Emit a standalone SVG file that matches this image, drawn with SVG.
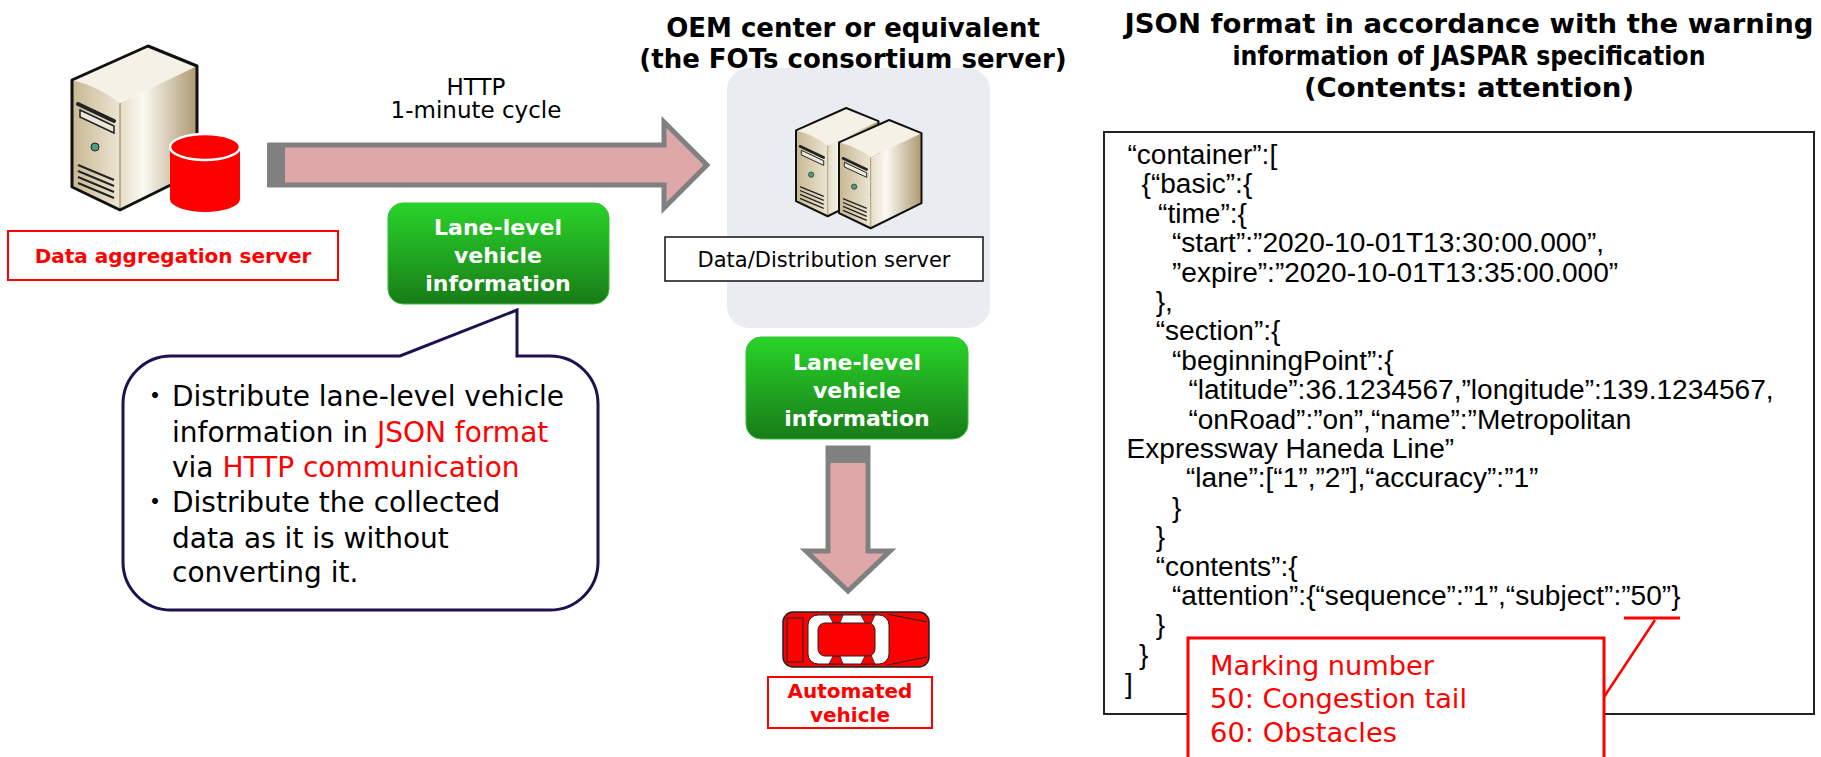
<svg xmlns="http://www.w3.org/2000/svg" xmlns:xlink="http://www.w3.org/1999/xlink" width="1821" height="757" viewBox="0 0 1821 757">
  <style>
    .sans { font-family: "DejaVu Sans", "Noto Sans CJK JP", sans-serif; }
    .bold { font-family: "DejaVu Sans", sans-serif; font-weight: bold; }
    .red { fill: #ff0000; }
    .lbl-red { fill: #ffffff; stroke: #ff0000; stroke-width: 2; }
    .green-box { fill: url(#greenGrad); stroke: #34c034; stroke-width: 1; }
    .green-txt { font-family: "DejaVu Sans", sans-serif; font-weight: bold; font-size: 22px; fill: #ffffff; text-anchor: middle; }
    .flow { fill: #dfa8a8; stroke: #808080; stroke-width: 5; stroke-linejoin: miter; }
    .json { font-family: "Liberation Sans", Arial, sans-serif; font-size: 27px; fill: #000; }
    .note { font-family: "DejaVu Sans", sans-serif; font-size: 26px; fill: #ff0000; }
  </style>
  <defs>
    <linearGradient id="greenGrad" x1="0" y1="0" x2="0" y2="1">
      <stop offset="0" stop-color="#29d429"/>
      <stop offset="1" stop-color="#187c18"/>
    </linearGradient>
    <linearGradient id="sideGrad" x1="0" y1="0" x2="1" y2="0">
      <stop offset="0" stop-color="#e6ddc6"/>
      <stop offset="0.3" stop-color="#fbf9f3"/>
      <stop offset="1" stop-color="#ad9870"/>
    </linearGradient>
    <linearGradient id="frontGrad" x1="0" y1="0" x2="1" y2="0">
      <stop offset="0" stop-color="#c8b893"/>
      <stop offset="1" stop-color="#ece5d2"/>
    </linearGradient>
    <!-- tower computer, 125 x 164 -->
    <g id="tower">
      <path d="M0,34 L76,0 L125,20 L48,57 Q26,40 0,34 Z" fill="#f5f1e6"/>
      <path d="M48,57 L125,20 L125,126 L48,164 Z" fill="url(#sideGrad)"/>
      <path d="M0,34 Q26,40 48,57 L48,164 L0,141 Z" fill="url(#frontGrad)"/>
      <path d="M48,57 L48,164" stroke="#8a7a5a" stroke-width="1" fill="none"/>
      <path d="M6,58 L42,75" stroke="#222" stroke-width="4" stroke-linecap="round"/>
      <path d="M8,64 L42,80 L42,87 L8,71 Z" fill="#ebe7dd" stroke="#222" stroke-width="1.5"/>
      <circle cx="23" cy="101" r="4" fill="#4f9c84" stroke="#222" stroke-width="1"/>
      <path d="M6,119 L42,134 M6,125 L42,140 M6,131 L42,146 M6,137 L42,152" stroke="#222" stroke-width="2" fill="none"/>
      <path d="M0,34 L76,0 L125,20 L125,126 L48,164 L0,141 Z" fill="none" stroke="#111" stroke-width="3" stroke-linejoin="round"/>
    </g>
  </defs>

  <rect width="1821" height="757" fill="#ffffff"/>

  <!-- connectors -->
  <g id="connectors">
    <polygon class="flow" points="270,145 664,145 664,122 707,165 664,208 664,185 270,185"/>
    <rect x="267" y="143" width="18" height="44" fill="#808080"/>
    <text class="sans" font-size="23" text-anchor="middle" x="476" y="95">HTTP</text>
    <text class="sans" font-size="23" text-anchor="middle" x="476" y="118">1-minute cycle</text>
    <polygon class="flow" points="828,448 868,448 868,551 890,551 848,591 806,551 828,551"/>
    <rect x="826" y="446" width="44" height="17" fill="#808080"/>
  </g>

  <!-- data aggregation server -->
  <g id="aggregation-server">
    <use xlink:href="#tower" href="#tower" transform="translate(72,46)"/>
    <path d="M170,147 L170,199 A35,13 0 0 0 240,199 L240,147 Z" fill="#ff0000"/>
    <ellipse cx="205" cy="147" rx="35" ry="13" fill="#ff0000" stroke="#ffffff" stroke-width="2.5"/>
    <rect class="lbl-red" x="8" y="231" width="330" height="49"/>
    <text class="bold red" font-size="20" text-anchor="middle" x="173" y="263">Data aggregation server</text>
  </g>

  <!-- lane-level vehicle information on the HTTP link -->
  <g id="info-upper">
    <rect class="green-box" x="388" y="203" width="221" height="101" rx="15"/>
    <text class="green-txt" x="498" y="235">Lane-level</text>
    <text class="green-txt" x="498" y="263">vehicle</text>
    <text class="green-txt" x="498" y="291">information</text>
  </g>

  <!-- OEM center -->
  <g id="oem-center">
    <text class="bold" font-size="26" text-anchor="middle" x="853" y="37">OEM center or equivalent</text>
    <text class="bold" font-size="26" text-anchor="middle" x="853" y="68">(the FOTs consortium server)</text>
    <rect x="727" y="68" width="263" height="260" rx="22" fill="#e9ecf1"/>
    <use xlink:href="#tower" href="#tower" transform="translate(796,108) scale(0.66)"/>
    <use xlink:href="#tower" href="#tower" transform="translate(839,120) scale(0.66)"/>
    <rect x="665" y="237" width="318" height="44" fill="#ffffff" stroke="#111" stroke-width="1.5"/>
    <text class="sans" font-size="21" text-anchor="middle" x="824" y="267">Data/Distribution server</text>
  </g>

  <!-- lane-level vehicle information toward the vehicle -->
  <g id="info-lower">
    <rect class="green-box" x="746" y="337" width="222" height="102" rx="15"/>
    <text class="green-txt" x="857" y="370">Lane-level</text>
    <text class="green-txt" x="857" y="398">vehicle</text>
    <text class="green-txt" x="857" y="426">information</text>
  </g>

  <!-- automated vehicle -->
  <g id="automated-vehicle">
    <g transform="translate(783,612)">
      <rect x="0" y="0" width="146" height="55" rx="10" fill="#ff0000" stroke="#222" stroke-width="1.5"/>
      <rect x="4" y="6" width="16" height="44" fill="none" stroke="#222" stroke-width="1"/>
      <rect x="25" y="3" width="81" height="49" rx="10" fill="#ffffff" stroke="#222" stroke-width="1"/>
      <path d="M46,3 L60,3 L57,11 L50,11 Z M46,52 L60,52 L57,44 L50,44 Z M78,3 L92,3 L88,12 L82,11 Z M78,52 L92,52 L88,43 L82,44 Z" fill="#ff0000" stroke="#222" stroke-width="0.8"/>
      <rect x="35" y="11" width="57" height="33" rx="7" fill="#ff0000" stroke="#222" stroke-width="1"/>
      <path d="M104,2 L144,10 M104,53 L144,45" stroke="#222" stroke-width="1" fill="none"/>
    </g>
    <rect class="lbl-red" x="768" y="677" width="164" height="51" stroke-width="1.5"/>
    <text class="bold red" font-size="20" text-anchor="middle" x="850" y="698">Automated</text>
    <text class="bold red" font-size="20" text-anchor="middle" x="850" y="722">vehicle</text>
  </g>

  <!-- speech bubble -->
  <g id="bubble">
    <path d="M171,356 L400,356 L517,310 L517,356 L550,356 A48,48 0 0 1 598,404 L598,562 A48,48 0 0 1 550,610 L171,610 A48,48 0 0 1 123,562 L123,404 A48,48 0 0 1 171,356 Z" fill="#ffffff" stroke="#1f1050" stroke-width="3" stroke-linejoin="miter"/>
    <g class="sans" font-size="28" fill="#000">
      <text x="141" y="406">・</text>
      <text x="172" y="406">Distribute lane-level vehicle</text>
      <text x="172" y="442">information in <tspan class="red">JSON format</tspan></text>
      <text x="172" y="477">via <tspan class="red">HTTP communication</tspan></text>
      <text x="141" y="512">・</text>
      <text x="172" y="512">Distribute the collected</text>
      <text x="172" y="548">data as it is without</text>
      <text x="172" y="582">converting it.</text>
    </g>
  </g>

  <!-- JSON sample -->
  <g id="json-sample">
    <text class="bold" font-size="26" text-anchor="middle" x="1469" y="33" textLength="689" lengthAdjust="spacingAndGlyphs">JSON format in accordance with the warning</text>
    <text class="bold" font-size="26" text-anchor="middle" x="1469" y="65" textLength="473" lengthAdjust="spacingAndGlyphs">information of JASPAR specification</text>
    <text class="bold" font-size="26" text-anchor="middle" x="1469" y="97" textLength="330" lengthAdjust="spacingAndGlyphs">(Contents: attention)</text>
    <rect x="1104" y="132" width="710" height="582" fill="#ffffff" stroke="#222" stroke-width="2"/>
    <g class="json" transform="scale(1.04 1)">
      <text x="1084.1" y="164">“container”:[</text>
      <text x="1097.6" y="193">{“basic”:{</text>
      <text x="1113.5" y="223">“time”:{</text>
      <text x="1126.9" y="252">“start”:”2020-10-01T13:30:00.000”,</text>
      <text x="1126.9" y="282">”expire”:”2020-10-01T13:35:00.000”</text>
      <text x="1111.2" y="311">},</text>
      <text x="1111.2" y="340">“section”:{</text>
      <text x="1126.9" y="370">“beginningPoint”:{</text>
      <text x="1142.7" y="399">“latitude”:36.1234567,”longitude”:139.1234567,</text>
      <text x="1142.7" y="429">“onRoad”:”on”,“name”:”Metropolitan</text>
      <text x="1083.2" y="458">Expressway Haneda Line”</text>
      <text x="1140.4" y="487">“lane”:[“1”,”2”],“accuracy”:”1”</text>
      <text x="1126.9" y="517">}</text>
      <text x="1111.2" y="546">}</text>
      <text x="1111.2" y="576">“contents”:{</text>
      <text x="1126.9" y="605">“attention”:{“sequence”:”1”,“subject”:”50”}</text>
      <text x="1111.2" y="634">}</text>
      <text x="1095.2" y="664">}</text>
      <text x="1081.7" y="693">]</text>
    </g>
  </g>

  <!-- marking number note -->
  <g id="marking-note">
    <path d="M1624,618 L1680,618" stroke="#ff0000" stroke-width="3"/>
    <path d="M1655,620 L1604,697" stroke="#ff0000" stroke-width="2.5"/>
    <rect x="1188" y="638" width="416" height="130" fill="#ffffff" stroke="#ff0000" stroke-width="3"/>
    <text class="note" x="1210" y="675" textLength="224" lengthAdjust="spacingAndGlyphs">Marking number</text>
    <text class="note" x="1210" y="708" textLength="257" lengthAdjust="spacingAndGlyphs">50: Congestion tail</text>
    <text class="note" x="1210" y="742" textLength="187" lengthAdjust="spacingAndGlyphs">60: Obstacles</text>
  </g>
</svg>
